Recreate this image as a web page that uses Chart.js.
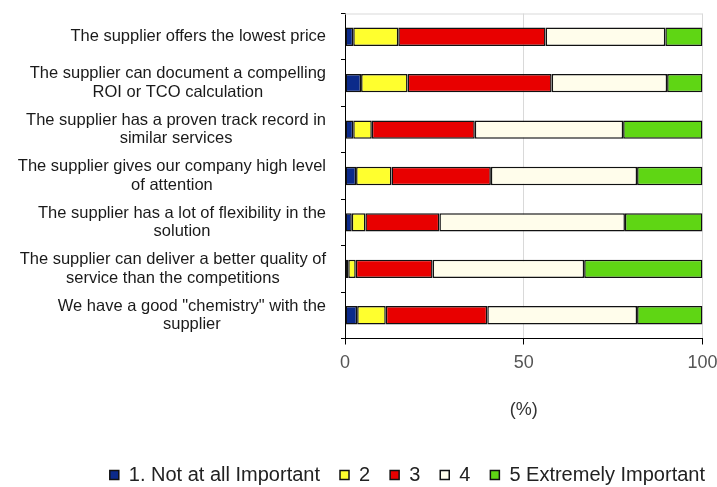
<!DOCTYPE html>
<html>
<head>
<meta charset="utf-8">
<script src="https://cdn.jsdelivr.net/npm/chart.js@4/dist/chart.umd.min.js"></script>
<style>
  html, body { margin: 0; padding: 0; background: #ffffff; }
  #wrap { width: 717px; height: 487px; }
</style>
</head>
<body>
<div id="wrap"><canvas id="c" width="717" height="487"></canvas></div>
<script>
const categories = [
  "The supplier offers the lowest price",
  ["The supplier can document a compelling", "ROI or TCO calculation"],
  ["The supplier has a proven track record in", "similar services"],
  ["The supplier gives our company high level", "of attention"],
  ["The supplier has a lot of flexibility in the", "solution"],
  ["The supplier can deliver a better quality of", "service than the competitions"],
  ["We have a good \"chemistry\" with the", "supplier"]
];
const seriesNames = ["1. Not at all Important", "2", "3", "4", "5 Extremely Important"];
const notAtAll   = [2.3, 4.5, 2.3, 3.1, 1.9, 0.9, 3.4];
const level2     = [12.6, 13.0, 5.2, 9.9, 3.8, 2.1, 8.0];
const level3     = [41.2, 40.3, 28.8, 27.8, 20.7, 21.5, 28.4];
const level4     = [33.5, 32.3, 41.5, 40.9, 51.9, 42.4, 41.9];
const extremely  = [10.4, 9.9, 22.2, 18.3, 21.7, 33.1, 18.3];
const xTickValues = [0, 50, 100];
const xTitle = "(%)";

const colors = ["#0b2a8a", "#ffff2e", "#e80000", "#fffdeb", "#5fd614"];
const seriesData = [notAtAll, level2, level3, level4, extremely];
const FONT = "'Liberation Sans', Arial, sans-serif";
const LABEL_GAP = 19; // gap between label block and y axis line

// Excel-like category labels: text block right-aligned, lines centred within the block
const labelBlocks = {
  id: 'labelBlocks',
  beforeDraw(chart) {
    const scale = chart.scales.y;
    const items = scale.getLabelItems();
    const ctx = chart.ctx;
    ctx.save();
    items.forEach(it => {
      ctx.font = it.font.string;
      const lines = Array.isArray(it.label) ? it.label : [it.label];
      const w = Math.max(...lines.map(l => ctx.measureText(l).width));
      it.options.textAlign = 'center';
      it.options.translation[0] = scale.right - LABEL_GAP - w / 2;
    });
    ctx.restore();
  }
};

const topBorder = {
  id: 'topBorder',
  beforeDatasetsDraw(chart) {
    const {ctx, chartArea} = chart;
    ctx.save();
    ctx.strokeStyle = '#d9d9d9';
    ctx.lineWidth = 1;
    ctx.beginPath();
    ctx.moveTo(chartArea.left, chartArea.top + 0.5);
    ctx.lineTo(chartArea.right, chartArea.top + 0.5);
    ctx.stroke();
    ctx.restore();
  }
};

new Chart(document.getElementById('c'), {
  type: 'bar',
  data: {
    labels: categories,
    datasets: seriesNames.map((name, i) => ({
      label: name,
      data: seriesData[i],
      backgroundColor: colors[i],
      borderColor: '#111',
      borderWidth: 1.5,
      borderSkipped: false,
      barPercentage: 0.395,
      categoryPercentage: 1.0
    }))
  },
  options: {
    indexAxis: 'y',
    responsive: false,
    animation: false,
    devicePixelRatio: 1,
    layout: { padding: { left: 0, right: -8, top: 13.5, bottom: -8 } },
    plugins: {
      tooltip: { enabled: false },
      legend: {
        position: 'bottom',
        align: 'end',
        labels: {
          boxWidth: 9,
          boxHeight: 9,
          padding: 20,
          color: '#222',
          font: { family: FONT, size: 20 }
        }
      }
    },
    scales: {
      x: {
        stacked: true,
        min: 0,
        max: 100,
        afterBuildTicks(scale) { scale.ticks = xTickValues.map(v => ({ value: v })); },
        afterFit(scale) {
          scale.height = 106.5;
          scale.paddingLeft = 0;
          scale.paddingRight = 14.5;
          scale.paddingTop = 0;
          scale.paddingBottom = 0;
        },
        border: { display: true, color: '#000', width: 1 },
        grid: {
          display: true,
          drawOnChartArea: true,
          drawTicks: true,
          tickLength: 6,
          tickColor: '#000',
          color: (c) => (c.tick && c.tick.value === 0) ? 'rgba(0,0,0,0)' : '#d9d9d9',
          lineWidth: 1
        },
        ticks: {
          padding: 8,
          color: '#555',
          font: { family: FONT, size: 18 },
          maxRotation: 0
        },
        title: {
          display: true,
          text: xTitle,
          color: '#333',
          font: { family: FONT, size: 18 },
          padding: { top: 0, bottom: 24.2 }
        }
      },
      y: {
        stacked: true,
        afterFit(scale) {
          scale.width = 345;
          scale.paddingTop = 0;
          scale.paddingBottom = 0;
        },
        border: { display: true, color: '#000', width: 1 },
        grid: {
          display: true,
          offset: true,
          drawOnChartArea: false,
          drawTicks: true,
          tickLength: 4,
          tickColor: '#000'
        },
        ticks: {
          crossAlign: 'center',
          padding: 14,
          color: '#1a1a1a',
          font: { family: FONT, size: 16.5, lineHeight: 1.12 }
        }
      }
    }
  },
  plugins: [labelBlocks, topBorder]
});
</script>
</body>
</html>
